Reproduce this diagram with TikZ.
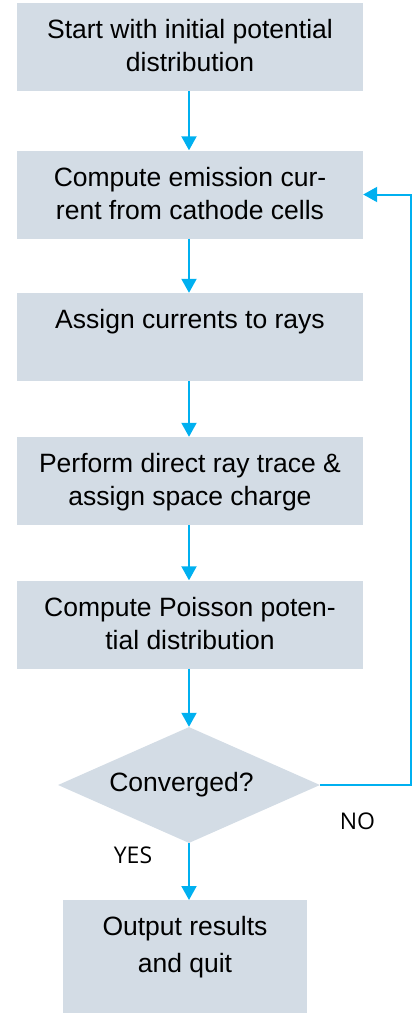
\documentclass[tikz,border=0pt]{standalone}
\usepackage{fontspec}
\setmainfont{Liberation Sans}
\newfontfamily\labfont{Open Sans}
\usetikzlibrary{arrows.meta,shapes.geometric}
\definecolor{boxfill}{HTML}{D3DCE5}
\definecolor{arrowc}{HTML}{00B0F0}
\newcommand\lstrut{\rule[-7.8pt]{0pt}{32pt}}
\begin{document}
\begin{tikzpicture}[x=1pt,y=-1pt,
  stepbox/.style={rectangle,fill=boxfill,draw=none,minimum width=346pt,
    inner xsep=0pt,inner ysep=11.5pt,align=center,
    font=\fontsize{26.5}{30}\selectfont},
  decision/.style={diamond,fill=boxfill,draw=none,aspect=2.2586,
    minimum width=262pt,minimum height=116pt,inner sep=0pt,
    font=\fontsize{26.5}{30}\selectfont},
  flow/.style={draw=arrowc,line width=2pt,-{Triangle[width=15pt,length=14pt]}},
  lab/.style={font=\labfont\fontsize{23}{26}\selectfont,inner sep=0pt}]
\useasboundingbox (0,0) rectangle (419,1013);
\node[stepbox] (b1) at (190,47) {\lstrut Start with initial potential\\\lstrut distribution};
\node[stepbox] (b2) at (190,194.5) {\lstrut Compute emission cur-\\\lstrut rent from cathode cells};
\node[stepbox] (b3) at (190,337) {\lstrut Assign currents to rays\\\lstrut};
\node[stepbox] (b4) at (190,481) {\lstrut Perform direct ray trace \&\\\lstrut assign space charge};
\node[stepbox] (b5) at (190,624.5) {\lstrut Compute Poisson poten-\\\lstrut tial distribution};
\node[decision] (d) at (189,785) {\hspace*{-15pt}\raisebox{-3.5pt}{Converged?}};
\node[stepbox,minimum width=244pt,anchor=north,font=\fontsize{26.5}{37}\selectfont] (b6) at (185,900) {\lstrut Output results\\\lstrut and quit\\\lstrut};
\node[lab] (no) at (357.5,821.5) {NO};
\node[lab] (yes) at (133,855) {YES};
\coordinate (c1) at (411,785);
\draw[flow] (b1.south -| 189,0) -- (b2.north -| 189,0);
\draw[flow] (b2.south -| 189,0) -- (b3.north -| 189,0);
\draw[flow] (b3.south -| 189,0) -- (b4.north -| 189,0);
\draw[flow] (b4.south -| 189,0) -- (b5.north -| 189,0);
\draw[flow] (b5.south -| 189,0) -- (d.north);
\draw[flow] (d.south) -- (d.south |- b6.north);
\draw[flow] (d.east) -- (c1) |- (b2.east);
\end{tikzpicture}
\end{document}
